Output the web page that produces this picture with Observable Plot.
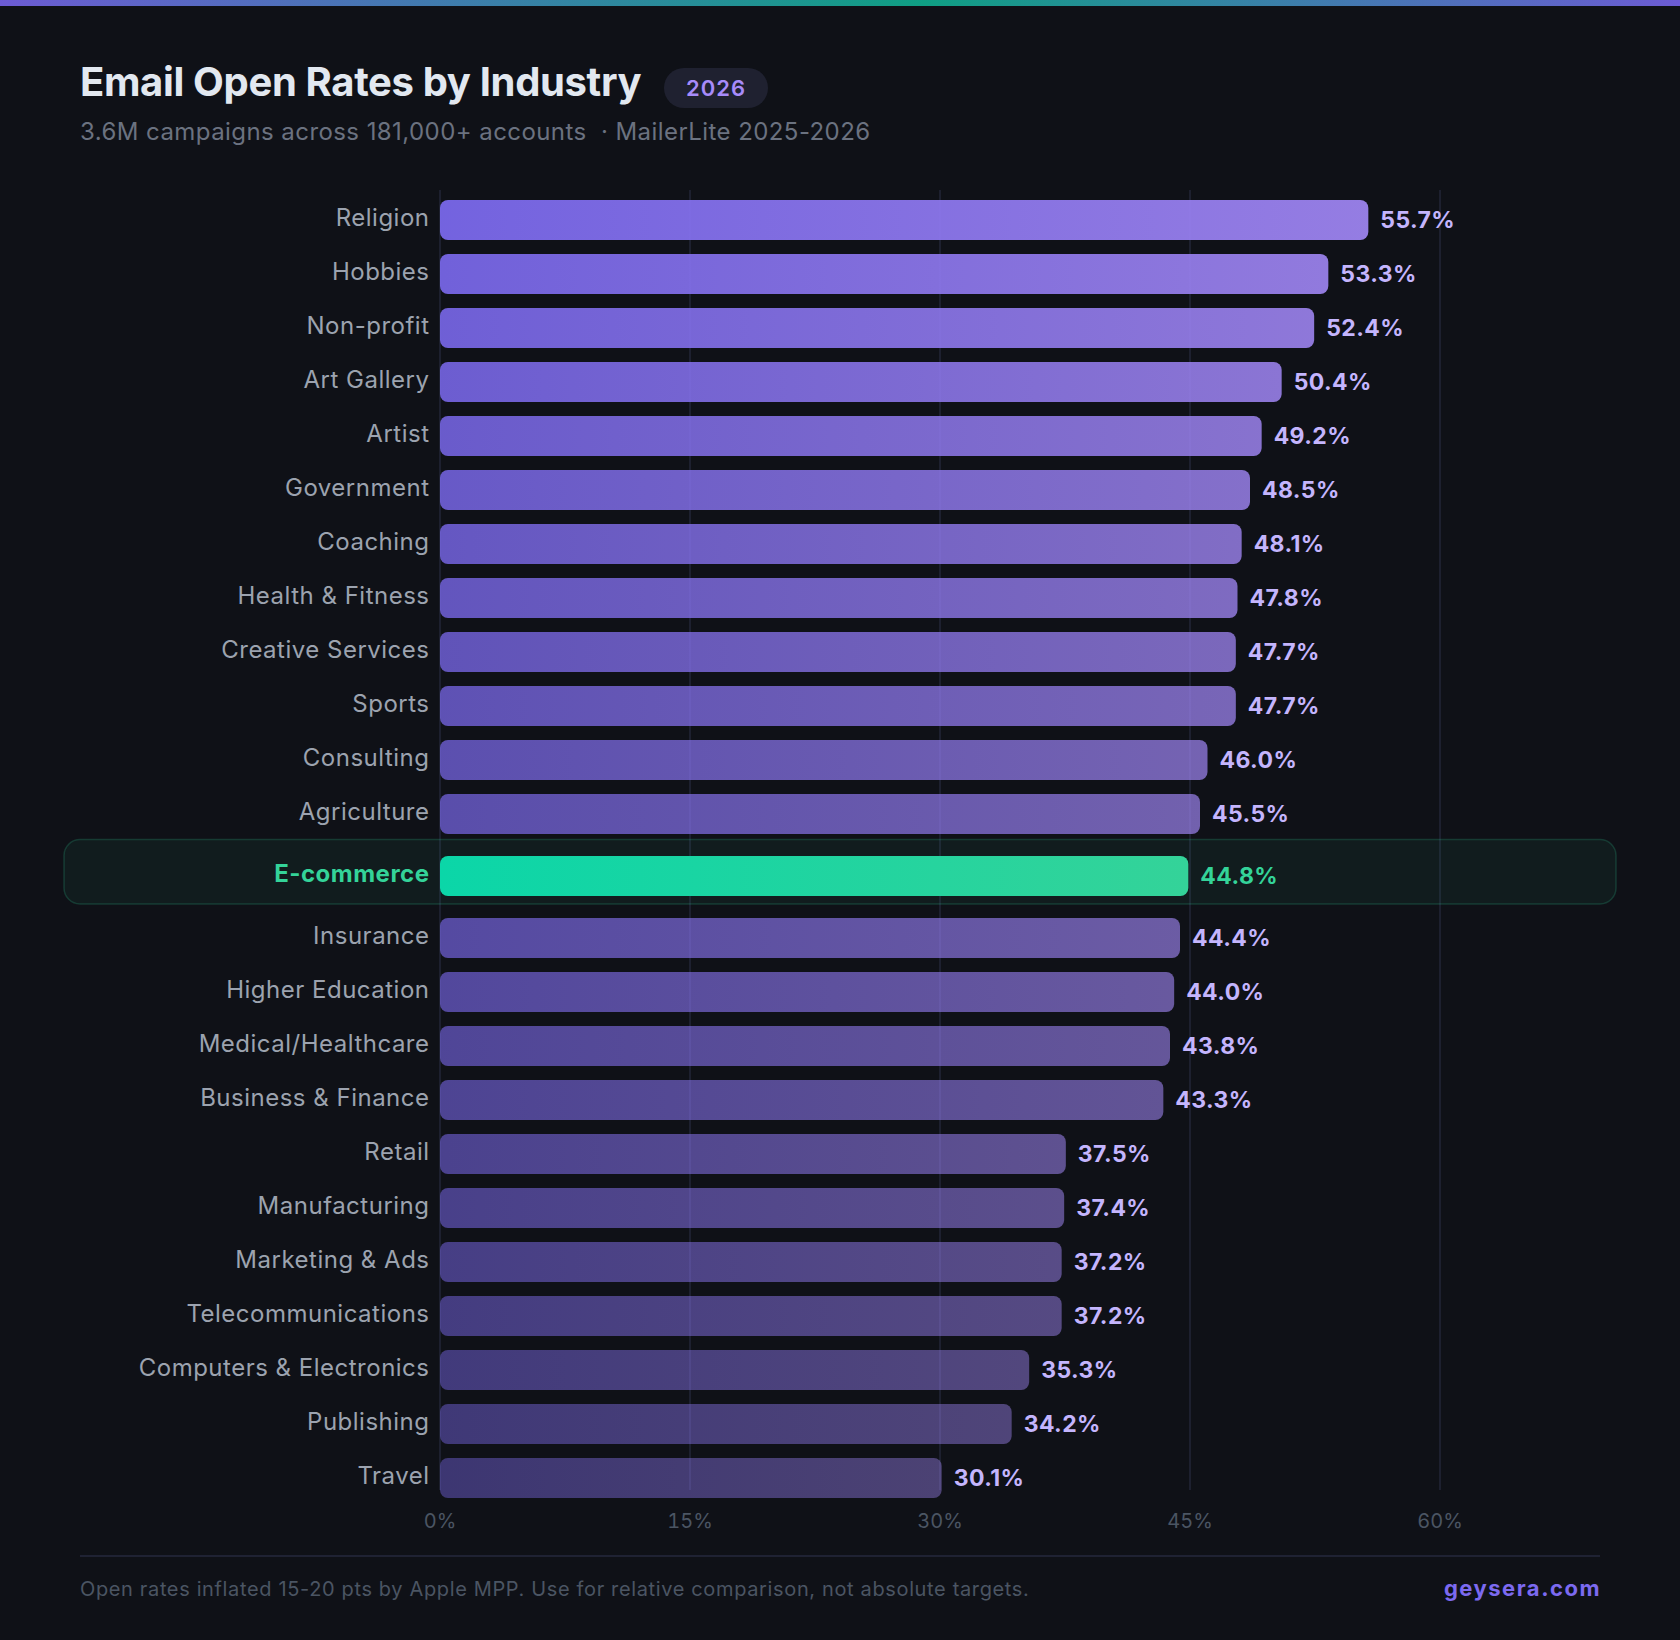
<!DOCTYPE html>
<html><head><meta charset="utf-8">
<script src="https://cdn.jsdelivr.net/npm/d3@7"></script>
<script src="https://cdn.jsdelivr.net/npm/@observablehq/plot@0.6"></script>
<style>
html,body{margin:0;padding:0;background:#0f1117;width:1680px;height:1640px;overflow:hidden;font-family:Inter,sans-serif}
#page{position:relative;width:1680px;height:1640px;background:#0f1117}
#topbar{position:absolute;left:0;top:0;width:1680px;height:6px;background:linear-gradient(90deg,#6c5bd4,#0f9f84 55%,#6c5bd4)}
#title{position:absolute;left:80px;top:57px;font-size:40px;line-height:50px;font-weight:700;color:#e2e8f0;letter-spacing:-0.35px;white-space:nowrap}
#badge{position:absolute;left:664px;top:68px;width:104px;height:40px;border-radius:20px;background:#1f2130;color:#a78bfa;font-size:22px;line-height:40px;text-align:center;font-weight:600;letter-spacing:1px}
#sub{position:absolute;left:80px;top:116px;font-size:24px;line-height:32px;color:#6b7280;letter-spacing:.43px;white-space:nowrap}
#chart{position:absolute;left:0;top:180px}
#rule{position:absolute;left:80px;top:1555px;width:1520px;height:2px;background:#1f2233}
#note{position:absolute;left:80px;top:1576px;font-size:20px;line-height:26px;color:#4b5563;letter-spacing:.64px;white-space:nowrap}
#brand{position:absolute;right:79px;top:1574px;font-size:22px;line-height:28px;font-weight:700;color:#7c6af0;letter-spacing:1.5px}
.catLabel{letter-spacing:.5px}
.valLabel{letter-spacing:.4px}
</style></head>
<body><div id="page">
<div id="topbar"></div>
<div id="title">Email Open Rates by Industry</div>
<div id="badge">2026</div>
<div id="sub">3.6M campaigns across 181,000+ accounts &nbsp;· MailerLite 2025-2026</div>
<div id="chart"></div>
<div id="rule"></div>
<div id="note">Open rates inflated 15-20 pts by Apple MPP. Use for relative comparison, not absolute targets.</div>
<div id="brand">geysera.com</div>
</div>
<script>
const industries = ["Religion","Hobbies","Non-profit","Art Gallery","Artist","Government","Coaching","Health & Fitness","Creative Services","Sports","Consulting","Agriculture","E-commerce","Insurance","Higher Education","Medical/Healthcare","Business & Finance","Retail","Manufacturing","Marketing & Ads","Telecommunications","Computers & Electronics","Publishing","Travel"];
// printed labels
const openRates = [55.7,53.3,52.4,50.4,49.2,48.5,48.1,47.8,47.7,47.7,46.0,45.5,44.8,44.4,44.0,43.8,43.3,37.5,37.4,37.2,37.2,35.3,34.2,30.1];
// bar lengths as measured on the picture (they run a hair past the rounded labels)
const barLengths = [55.7,53.3,52.45,50.5,49.3,48.6,48.1,47.85,47.75,47.75,46.05,45.6,44.9,44.4,44.05,43.8,43.4,37.55,37.45,37.3,37.3,35.35,34.3,30.1];
const highlighted = "E-commerce";
const xTicks = [0,15,30,45,60];

const hi = industries.indexOf(highlighted);
const step = 54, barH = 40, gap = 8;
const rows = industries.map((name,i)=>({
  name, value: openRates[i], length: barLengths[i], rank: i,
  top: 10 + i*step + (i>=hi?gap:0) + (i>hi?gap:0)
}));
const muted = rows.filter(d=>d.name!==highlighted);
const focus = rows.filter(d=>d.name===highlighted);
const shade = d => 0.92 - 0.5*d.rank/(rows.length-1);
const font = "Inter, sans-serif";

const defs = () => d3.create("svg:defs").html(`
  <linearGradient id="gBar"><stop offset="0" stop-color="#7c6af0"/><stop offset="1" stop-color="#a086f4"/></linearGradient>
  <linearGradient id="gHi"><stop offset="0" stop-color="#0bd6a8"/><stop offset="1" stop-color="#34d399"/></linearGradient>`).node();

const panel = (index, {y}, values, {width}) => {
  const r = focus[0];
  return d3.create("svg:rect")
    .attr("x",64).attr("width",width-128)
    .attr("y",y(r.top)-16.5).attr("height",barH+24.5)
    .attr("rx",16)
    .attr("fill","#34d399").attr("fill-opacity",0.06)
    .attr("stroke","#34d399").attr("stroke-opacity",0.2).attr("stroke-width",1.5).node();
};

const chart = Plot.plot({
  width:1680, height:1360,
  marginLeft:440, marginRight:240, marginTop:10, marginBottom:50,
  style:{background:"transparent",fontFamily:font,overflow:"visible"},
  x:{domain:[0,60],range:[440,1440]},
  y:{domain:[0,1300],range:[10,1310],axis:null},
  opacity:{type:"identity"},
  marks:[
    defs,
    Plot.gridX(xTicks,{stroke:"#232638",strokeOpacity:1,strokeWidth:1.5,dx:-0.5}),
    panel,
    Plot.rect(muted,{x1:0,x2:"length",y1:"top",y2:d=>d.top+barH,rx:8,fill:"url(#gBar)",fillOpacity:shade}),
    Plot.rect(focus,{x1:0,x2:"length",y1:"top",y2:d=>d.top+barH,rx:8,fill:"url(#gHi)"}),
    Plot.text(muted,{className:"catLabel",x:0,y:d=>d.top+barH/2-2.5,text:"name",textAnchor:"end",dx:-11,fontSize:24,fill:"#9ca3af",fontFamily:font}),
    Plot.text(focus,{className:"catLabel",x:0,y:d=>d.top+barH/2-2.5,text:"name",textAnchor:"end",dx:-11,fontSize:24,fontWeight:700,fill:"#34d399",fontFamily:font}),
    Plot.text(muted,{className:"valLabel",x:"length",y:d=>d.top+barH/2,text:d=>d.value.toFixed(1)+"%",textAnchor:"start",dx:11.5,fontSize:23,fontWeight:700,fill:"#c4b5fd",fontFamily:font}),
    Plot.text(focus,{className:"valLabel",x:"length",y:d=>d.top+barH/2,text:d=>d.value.toFixed(1)+"%",textAnchor:"start",dx:11.5,fontSize:23,fontWeight:700,fill:"#34d399",fontFamily:font}),
    Plot.axisX(xTicks,{anchor:"bottom",tickSize:0,tickPadding:23,tickFormat:d=>d+"%",fontSize:20,fill:"#4b5563",label:null,fontFamily:font,dx:-0.5})
  ]
});
document.getElementById("chart").appendChild(chart);
</script>
</body></html>
